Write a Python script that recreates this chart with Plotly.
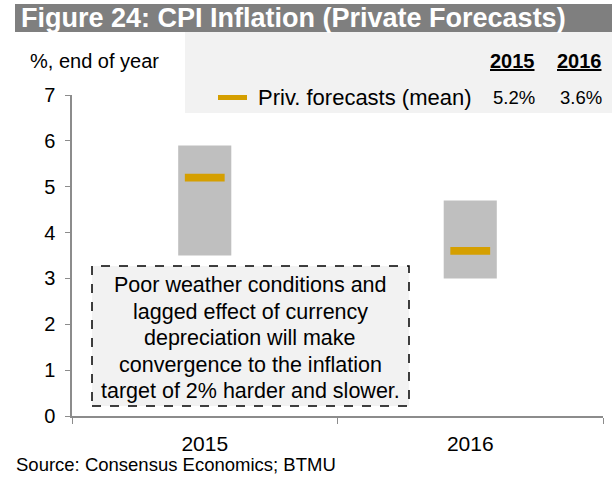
import plotly.graph_objects as go

FONT = "Liberation Sans, Arial, sans-serif"

years = ["2015", "2016"]
range_low = [3.5, 3.0]
range_high = [5.9, 4.7]
mean_fc = [5.2, 3.6]
mean_labels = ["5.2%", "3.6%"]

note_lines = [
    "Poor weather conditions and",
    "lagged effect of currency",
    "depreciation will make",
    "convergence to the inflation",
    "target of 2% harder and slower.",
]

# plot area in pixels (figure is 612x489)
L, R, T, B = 72, 603, 95, 416
PW, PH = R - L, B - T


def px(x):
    return (x - L) / PW


def py(y):
    return (B - y) / PH


fig = go.Figure()

# forecast range (min-max), floating bars
fig.add_trace(go.Bar(
    x=years,
    y=[h - l for h, l in zip(range_high, range_low)],
    base=range_low,
    width=0.2,
    marker=dict(color="#bfbfbf", line=dict(width=0)),
    hoverinfo="skip",
))

# mean marker
fig.add_trace(go.Bar(
    x=years,
    y=[0.17] * len(mean_fc),
    base=[m - 0.085 for m in mean_fc],
    width=0.15,
    marker=dict(color="#d59f00", line=dict(width=0)),
))

fig.update_layout(
    width=612, height=489,
    margin=dict(l=L, r=612 - R, t=T, b=489 - B),
    plot_bgcolor="white", paper_bgcolor="white",
    barmode="overlay",
    font=dict(family=FONT, size=20, color="black"),
    showlegend=False,
)

fig.update_yaxes(range=[0, 7], dtick=1, showgrid=False, zeroline=False,
                 showline=True, linecolor="#8c8c8c", linewidth=1.5,
                 ticks="outside", ticklen=5, tickcolor="#8c8c8c",
                 ticklabelstandoff=6, tickfont=dict(size=20))
fig.update_xaxes(range=[-0.5, 1.5], showgrid=False, showline=True,
                 linecolor="#8c8c8c", linewidth=1.5,
                 ticks="outside", ticklen=6, tickcolor="#8c8c8c",
                 tickson="boundaries", ticklabelstandoff=8,
                 tickfont=dict(size=21))

shapes = [
    # title bar
    dict(type="rect", xref="paper", yref="paper",
         x0=px(15), x1=px(612), y0=py(32), y1=py(4),
         fillcolor="#7f7f7f", line=dict(width=0), layer="below"),
    # legend box
    dict(type="rect", xref="paper", yref="paper",
         x0=px(185), x1=px(612), y0=py(113), y1=py(32),
         fillcolor="#f2f2f2", line=dict(width=0), layer="below"),
    # legend dash
    dict(type="line", xref="paper", yref="paper",
         x0=px(218), x1=px(247), y0=py(97.5), y1=py(97.5),
         line=dict(color="#d59f00", width=5)),
    # note box
    dict(type="rect", xref="paper", yref="paper",
         x0=px(92), x1=px(409), y0=py(406), y1=py(266),
         fillcolor="#f2f2f2", line=dict(color="black", width=1.5, dash="dash")),
]
fig.update_layout(shapes=shapes)

ann = []
ann.append(dict(text="<b>Figure 24: CPI Inflation (Private Forecasts)</b>",
                xref="paper", yref="paper", x=px(19), y=py(18),
                xanchor="left", yanchor="middle", showarrow=False,
                font=dict(size=27, color="white")))
ann.append(dict(text="%, end of year", xref="paper", yref="paper",
                x=px(28), y=py(61),
                xanchor="left", yanchor="middle", showarrow=False,
                font=dict(size=20)))
ann.append(dict(text="Priv. forecasts (mean)", xref="paper", yref="paper",
                x=px(256), y=py(97.5),
                xanchor="left", yanchor="middle", showarrow=False,
                font=dict(size=22)))
for yr, lab, xr in zip(years, mean_labels, [537, 604]):
    ann.append(dict(text="<b><u>" + yr + "</u></b>", xref="paper", yref="paper",
                    x=px(xr), y=py(61),
                    xanchor="right", yanchor="middle", showarrow=False,
                    font=dict(size=20)))
    ann.append(dict(text=lab, xref="paper", yref="paper",
                    x=px(xr), y=py(97.5),
                    xanchor="right", yanchor="middle", showarrow=False,
                    font=dict(size=18.5)))
for i, line in enumerate(note_lines):
    ann.append(dict(text=line, xref="paper", yref="paper",
                    x=px(250), y=py(285 + 26.6 * i),
                    xanchor="center", yanchor="middle",
                    showarrow=False, font=dict(size=21.5)))
ann.append(dict(text="Source: Consensus Economics; BTMU", xref="paper", yref="paper",
                x=px(14), y=py(464),
                xanchor="left", yanchor="middle", showarrow=False,
                font=dict(size=18.5)))
fig.update_layout(annotations=ann)

fig.write_html("out.html", config={"displayModeBar": False},
               post_script="document.body.style.margin='0';")
